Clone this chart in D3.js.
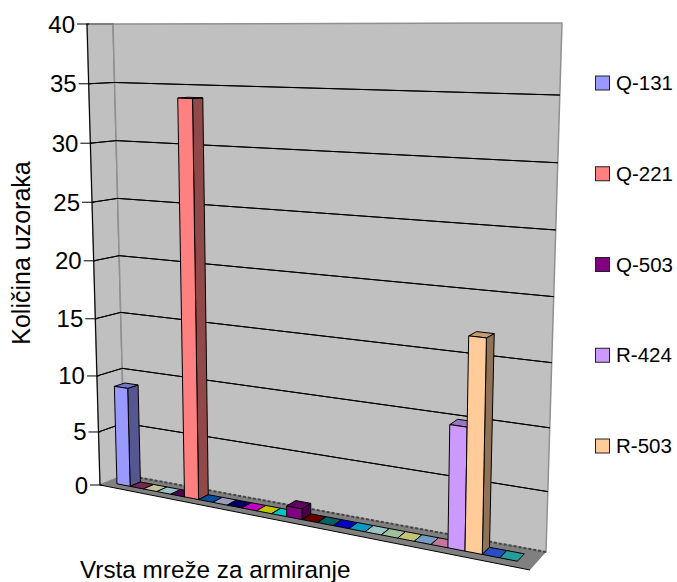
<!DOCTYPE html>
<html><head><meta charset="utf-8">
<script src="https://cdnjs.cloudflare.com/ajax/libs/d3/7.8.5/d3.min.js"></script>
<style>html,body{margin:0;padding:0;background:#fff}svg{display:block}text{font-family:"Liberation Sans",Arial,sans-serif;fill:#000}</style>
</head><body><div id="chart"></div>
<script>
const yTicks = [0,5,10,15,20,25,30,35,40];
const barValues = [9,0,0,0,0,34,0,0,0,0,0,0,1,0,0,0,0,0,0,0,0,0,10,17,0,0];
const barColors = ["#9999ff","#993366","#ffffcc","#ccffff","#660066","#ff8080","#0066cc","#ccccff","#000080","#ff00ff","#ffff00","#00ffff","#800080","#800000","#008080","#0000ff","#00ccff","#ccffff","#ccffcc","#ffff99","#99ccff","#ff99cc","#cc99ff","#ffcc99","#3366ff","#33cccc"];
const legendNames = ["Q-131","Q-221","Q-503","R-424","R-503"];
const legendColors = ["#9999ff","#ff8080","#800080","#cc99ff","#ffcc99"];
const yTitle = "Količina uzoraka";
const xTitle = "Vrsta mreže za armiranje";

const W=677,H=582;
const svg=d3.select("#chart").append("svg").attr("width",W).attr("height",H);
// categories widen towards the viewer: the band edge is a foreshortened pixel position
const xToU=d3.scaleLinear().domain([107.5,537.5]).range([0,1]);
const u=i=>xToU(117+13.15*i+0.0904*i*i);
const v=d3.scalePow().exponent(1.04).domain([0,40]).range([0,1]);
const box={fl0:[100,485],fr0:[530,570],fl1:[87,24],fr1:[542,28],
           bl0:[125,475],br0:[546,552],bl1:[113,24],br1:[562,27]};
const wallTopRight=[562,23];
const mix=(a,b,t)=>[a[0]+(b[0]-a[0])*t,a[1]+(b[1]-a[1])*t];
function P(uu,val,dd){
  const t=v(val),b=box;
  const f=mix(mix(b.fl0,b.fr0,uu),mix(b.fl1,b.fr1,uu),t);
  const k=mix(mix(b.bl0,b.br0,uu),mix(b.bl1,b.br1,uu),t);
  return mix(f,k,dd);
}
const line=d3.line().curve(d3.curveLinearClosed);
const poly=(pts,fill,stroke,sw)=>svg.append("path").attr("d",line(pts)).attr("fill",fill).attr("stroke",stroke||"none").attr("stroke-width",sw||1).attr("stroke-linejoin","round");
// walls and floor
poly([P(0,0,0),P(0,40,0),P(0,40,1),P(0,0,1)],"#c0c0c0","#808080",1.5);
poly([P(0,0,1),P(0,40,1),wallTopRight,P(1,0,1)],"#c0c0c0","#909090",1.5);
poly([P(0,0,0),P(0,0,1),P(1,0,1),P(1,0,0)],"#808080");
svg.append("path").attr("d",d3.line()([P(0,0,1),P(1,0,1)])).attr("stroke","#444").attr("stroke-width",2).attr("stroke-dasharray","3 2").attr("fill","none");
svg.append("path").attr("d",d3.line()([P(0,0,0),P(1,0,0)])).attr("stroke","#000").attr("stroke-width",1).attr("fill","none");
// gridlines
yTicks.filter(t=>t>0&&t<40).forEach(t=>{
  poly([P(0,t,0),P(0,t,1)],"none","#000",1);
  poly([P(0,t,1),P(1,t,1)],"none","#000",1);
});
poly([P(0,40,0),P(0,40,1)],"none","#777",1.5);
// left axis
svg.append("path").attr("d",d3.line()(yTicks.map(t=>P(0,t,0)))).attr("stroke","#000").attr("fill","none");
yTicks.forEach(t=>{
  const p=P(0,t,0);
  svg.append("line").attr("x1",p[0]-10).attr("x2",p[0]+2).attr("y1",p[1]).attr("y2",p[1]).attr("stroke","#000");
  svg.append("text").attr("x",p[0]-12).attr("y",p[1]+8.5).attr("text-anchor","end").attr("font-size",24).text(t);
});
// bars
const shade=(c,k)=>d3.rgb(c).darker(k).formatHex();
const d0=0.3,d1=0.72;
barValues.forEach((val,i)=>{
  const a=u(i),b=u(i+1),c=barColors[i];
  if(val===0){
    poly([P(a,0,d0),P(b,0,d0),P(b,0,d1),P(a,0,d1)],shade(c,0.75),"#000",1);
    return;
  }
  poly([P(b,0,d0),P(b,val,d0),P(b,val,d1),P(b,0,d1)],shade(c,1.6),"#000",1);
  poly([P(a,val,d0),P(b,val,d0),P(b,val,d1),P(a,val,d1)],shade(c,0.75),"#000",1);
  poly([P(a,0,d0),P(a,val,d0),P(b,val,d0),P(b,0,d0)],c,"#000",1);
});
// titles
svg.append("text").attr("transform","translate(30,253) rotate(-90)").attr("text-anchor","middle").attr("font-size",25).text(yTitle);
svg.append("text").attr("x",80).attr("y",578).attr("font-size",24.3).text(xTitle);
// legend
const ly=d3.scalePoint().domain(legendNames).range([83,446]);
legendNames.forEach((n,i)=>{
  const y=ly(n);
  svg.append("rect").attr("x",595.5).attr("y",y-7).attr("width",14).attr("height",14).attr("fill",legendColors[i]).attr("stroke","#222");
  svg.append("text").attr("x",616).attr("y",y+7).attr("font-size",20.5).text(n);
});
</script></body></html>
